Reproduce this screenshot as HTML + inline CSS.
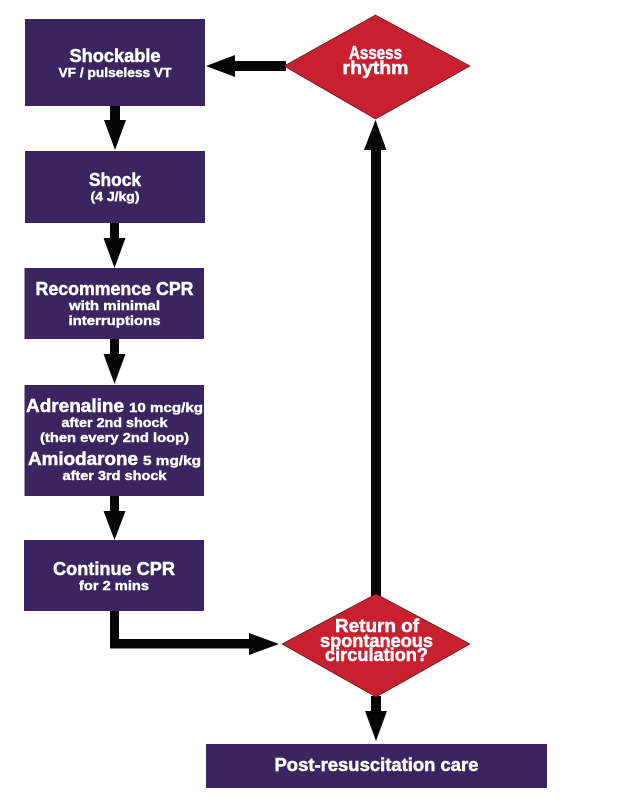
<!DOCTYPE html>
<html>
<head>
<meta charset="utf-8">
<style>
html,body{margin:0;padding:0;background:#fff;}
svg{display:block;}
text{font-family:"Liberation Sans",sans-serif;font-weight:bold;fill:#fff;text-anchor:middle;stroke:#fff;stroke-width:.5px;}
.a{font-size:18px;}
.b{font-size:13px;stroke-width:.4px;}
</style>
</head>
<body>
<svg width="626" height="810" viewBox="0 0 626 810" xmlns="http://www.w3.org/2000/svg">
<rect width="626" height="810" fill="#fff"/>
<g fill="#3b2560">
<rect x="25" y="19" width="180" height="87"/>
<rect x="25" y="151" width="180" height="72"/>
<rect x="24.5" y="268" width="179.5" height="71"/>
<rect x="24.5" y="385" width="179.5" height="111"/>
<rect x="24" y="540" width="180" height="71"/>
<rect x="206" y="744" width="341" height="44"/>
</g>
<g fill="#050505">
<polygon points="110,106 120,106 120,120 126,120 115,150 104,120 110,120"/>
<polygon points="110,223 119,223 119,238 125.500,238 114.500,268 103.500,238 110,238"/>
<polygon points="110,339 119,339 119,354 125.500,354 114.500,384 103.500,354 110,354"/>
<polygon points="110,496 119,496 119,511 125.500,511 114.500,540 103.500,511 110,511"/>
<polygon points="110,611 119,611 119,639 249,639 249,633 279,644 249,655 249,648.500 110,648.500"/>
<polygon points="286,61 235,61 235,55 206,66 235,77 235,71 286,71"/>
<polygon points="371,597 371,150 364,150 375.500,120 386.500,150 381,150 381,597"/>
<polygon points="371,696 381,696 381,711 387,711 376,741 365,711 371,711"/>
</g>
<g fill="#c8202f" stroke="#4a1016" stroke-width=".7">
<polygon points="284,66 375.500,15 470,66 375.500,119"/>
<polygon points="282,644 376,594 470,644 376,697"/>
</g>
<text class="a" x="115" y="62" textLength="91" lengthAdjust="spacingAndGlyphs">Shockable</text>
<text class="b" x="115" y="77" textLength="113" lengthAdjust="spacingAndGlyphs">VF / pulseless VT</text>
<text class="a" x="115" y="186" textLength="52" lengthAdjust="spacingAndGlyphs">Shock</text>
<text class="b" x="115" y="201" textLength="49" lengthAdjust="spacingAndGlyphs">(4 J/kg)</text>
<text class="a" x="114.500" y="295" textLength="158" lengthAdjust="spacingAndGlyphs">Recommence CPR</text>
<text class="b" x="114.500" y="310" textLength="91" lengthAdjust="spacingAndGlyphs">with minimal</text>
<text class="b" x="114.500" y="325" textLength="92" lengthAdjust="spacingAndGlyphs">interruptions</text>
<text class="a" x="75" y="412" textLength="98" lengthAdjust="spacingAndGlyphs">Adrenaline</text>
<text class="b" x="166" y="412" textLength="74" lengthAdjust="spacingAndGlyphs">10 mcg/kg</text>
<text class="b" x="114.500" y="427" textLength="106" lengthAdjust="spacingAndGlyphs">after 2nd shock</text>
<text class="b" x="114.500" y="442" textLength="149" lengthAdjust="spacingAndGlyphs">(then every 2nd loop)</text>
<text class="a" x="83" y="465" textLength="110" lengthAdjust="spacingAndGlyphs">Amiodarone</text>
<text class="b" x="172" y="465" textLength="58" lengthAdjust="spacingAndGlyphs">5 mg/kg</text>
<text class="b" x="114.500" y="480" textLength="104" lengthAdjust="spacingAndGlyphs">after 3rd shock</text>
<text class="a" x="114" y="575" textLength="122" lengthAdjust="spacingAndGlyphs">Continue CPR</text>
<text class="b" x="114" y="590" textLength="70" lengthAdjust="spacingAndGlyphs">for 2 mins</text>
<text class="a" x="376.500" y="771" textLength="204" lengthAdjust="spacingAndGlyphs">Post-resuscitation care</text>
<text class="a" x="375.500" y="59" textLength="53" lengthAdjust="spacingAndGlyphs">Assess</text>
<text class="a" x="375.500" y="74" textLength="66" lengthAdjust="spacingAndGlyphs">rhythm</text>
<text class="a" x="377" y="632" textLength="84" lengthAdjust="spacingAndGlyphs">Return of</text>
<text class="a" x="376.500" y="647" textLength="113" lengthAdjust="spacingAndGlyphs">spontaneous</text>
<text class="a" x="376.500" y="661" textLength="103" lengthAdjust="spacingAndGlyphs">circulation?</text>
</svg>
</body>
</html>
